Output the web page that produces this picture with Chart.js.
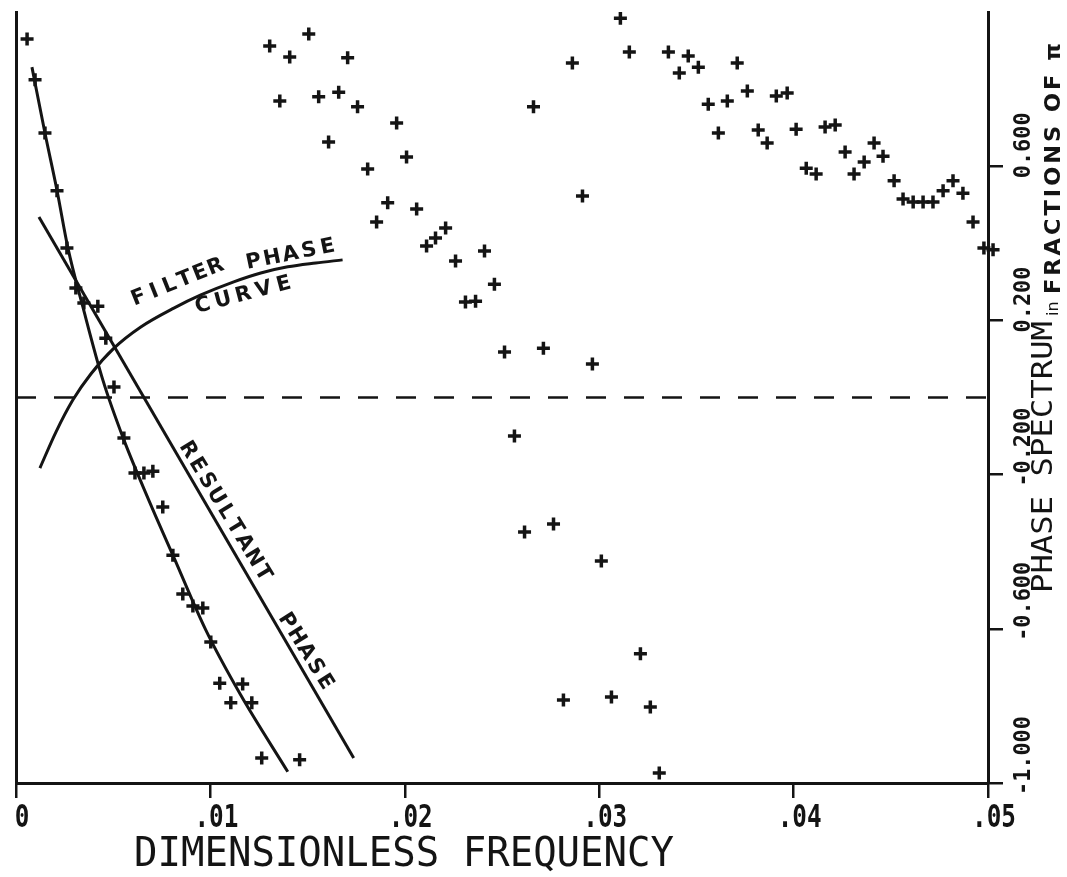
<!DOCTYPE html>
<html>
<head>
<meta charset="utf-8">
<script src="https://cdn.jsdelivr.net/npm/chart.js@4.4.1/dist/chart.umd.min.js"></script>
<style>
  html, body { margin: 0; padding: 0; background: #ffffff; }
  #wrap { width: 1067px; height: 877px; position: relative; }
  canvas { display: block; }
</style>
</head>
<body>
<div id="wrap"><canvas id="c" width="1067" height="877"></canvas></div>
<script>
// ---------------- data ----------------
const xTickValues = [0, 0.01, 0.02, 0.03, 0.04, 0.05];
const xTickLabels = ['0', '.01', '.02', '.03', '.04', '.05'];
const yTickValues = [-1.0, -0.6, -0.2, 0.2, 0.6];
const yTickLabels = ['-1.000', '-0.600', '-0.200', '0.200', '0.600'];
const xAxisTitle = 'DIMENSIONLESS FREQUENCY';
const yAxisTitleMain = 'PHASE SPECTRUM';
const yAxisTitleIn = 'in';
const yAxisTitleUnit = 'FRACTIONS OF π';
const filterLabelWords = ['FILTER', 'PHASE', 'CURVE'];
const resultantLabelWords = ['RESULTANT', 'PHASE'];

// observed phase points (+ markers)
const obsFreq = [
  0.00057, 0.00098, 0.00149, 0.00211, 0.00262, 0.00308, 0.00349, 0.00421, 0.00462, 0.00504,
  0.00555, 0.00612, 0.00658, 0.00704, 0.00755, 0.00807, 0.00858, 0.00910, 0.00961, 0.01002,
  0.01048, 0.01166, 0.01105, 0.01213, 0.01264, 0.01459, 0.01305, 0.01408, 0.01506, 0.01706,
  0.01357, 0.01557, 0.01660, 0.01757, 0.01608, 0.01958, 0.02009, 0.01809, 0.01912, 0.01855,
  0.02061, 0.02112, 0.02158, 0.02210, 0.02261, 0.02410, 0.02461, 0.02312, 0.02364, 0.02513,
  0.02713, 0.02965, 0.02564, 0.02616, 0.02765, 0.03011, 0.03212, 0.02816, 0.03063, 0.03263,
  0.03309, 0.02662, 0.02914, 0.02862, 0.03109, 0.03155, 0.03356, 0.03458, 0.03510, 0.03412,
  0.03710, 0.03561, 0.03659, 0.03613, 0.03762, 0.03911, 0.03967, 0.03818, 0.03864, 0.04013,
  0.04162, 0.04214, 0.04065, 0.04116, 0.04265, 0.04311, 0.04363, 0.04414, 0.04460, 0.04517,
  0.04563, 0.04615, 0.04666, 0.04717, 0.04769, 0.04820, 0.04871, 0.04923, 0.04979, 0.05026
];
const obsPhase = [
  0.930, 0.824, 0.686, 0.536, 0.388, 0.284, 0.245, 0.237, 0.154, 0.027,
  -0.105, -0.196, -0.196, -0.191, -0.284, -0.409, -0.510, -0.541, -0.546, -0.634,
  -0.741, -0.743, -0.792, -0.792, -0.935, -0.940, 0.912, 0.883, 0.943, 0.881,
  0.769, 0.780, 0.792, 0.754, 0.663, 0.712, 0.624, 0.593, 0.505, 0.455,
  0.489, 0.393, 0.414, 0.440, 0.354, 0.380, 0.294, 0.248, 0.250, 0.118,
  0.128, 0.087, -0.100, -0.349, -0.328, -0.424, -0.665, -0.785, -0.777, -0.803,
  -0.974, 0.754, 0.523, 0.868, 0.984, 0.896, 0.896, 0.886, 0.857, 0.842,
  0.868, 0.761, 0.769, 0.686, 0.795, 0.782, 0.790, 0.694, 0.660, 0.696,
  0.702, 0.707, 0.595, 0.580, 0.637, 0.580, 0.611, 0.660, 0.626, 0.562,
  0.515, 0.507, 0.507, 0.507, 0.536, 0.562, 0.530, 0.455, 0.388, 0.383
];

// smooth curve drawn through the low-frequency points
const fitFreq  = [0.00082, 0.00149, 0.00211, 0.00267, 0.00344, 0.00447, 0.00555, 0.00683, 0.00807, 0.00976, 0.01156, 0.01398];
const fitPhase = [0.857, 0.686, 0.537, 0.388, 0.235, 0.045, -0.110, -0.266, -0.409, -0.603, -0.772, -0.971];

// resultant phase (straight line)
const resultantFreq  = [0.00118, 0.01737];
const resultantPhase = [0.468, -0.935];

// filter phase curve
const filterFreq  = [0.00123, 0.00206, 0.00293, 0.00385, 0.00504, 0.00642, 0.00812, 0.00951, 0.01120, 0.01259, 0.01398, 0.01542, 0.01680];
const filterPhase = [-0.183, -0.089, -0.006, 0.061, 0.128, 0.183, 0.232, 0.266, 0.300, 0.323, 0.339, 0.349, 0.357];

// zero reference (dashed)
const zeroFreq  = [0, 0.05];
const zeroPhase = [0, 0];

// ---------------- helpers ----------------
const ink = '#141414';
const pts = (xs, ys) => xs.map((x, i) => ({ x: x, y: ys[i] }));

// word label anchors in data units: first-letter centre, last-letter centre
const wordAnchors = {
  filter:    [[0.00632, 0.258], [0.01028, 0.338]],
  phaseF:    [[0.01223, 0.351], [0.01603, 0.390]],
  curve:     [[0.00961, 0.238], [0.01378, 0.293]],
  resultant: [[0.00884, -0.136], [0.01269, -0.456]],
  phaseR:    [[0.01393, -0.580], [0.01588, -0.738]]
};

function drawWordAlong(ctx, chart, word, anchor, font) {
  const xs = chart.scales.x, ys = chart.scales.y;
  const p0 = [xs.getPixelForValue(anchor[0][0]), ys.getPixelForValue(anchor[0][1])];
  const p1 = [xs.getPixelForValue(anchor[1][0]), ys.getPixelForValue(anchor[1][1])];
  const ang = Math.atan2(p1[1] - p0[1], p1[0] - p0[0]);
  const n = word.length;
  ctx.save();
  ctx.font = font;
  ctx.textAlign = 'center';
  ctx.textBaseline = 'middle';
  for (let i = 0; i < n; i++) {
    const t = n === 1 ? 0 : i / (n - 1);
    const cx = p0[0] + t * (p1[0] - p0[0]);
    const cy = p0[1] + t * (p1[1] - p0[1]);
    ctx.save();
    ctx.translate(cx, cy);
    ctx.rotate(ang);
    ctx.fillText(word[i], 0, 0);
    ctx.restore();
  }
  ctx.restore();
}

// draw text scaled along its reading direction to a target length
function drawFitted(ctx, text, font, targetLen) {
  ctx.font = font;
  const w = ctx.measureText(text).width;
  ctx.save();
  ctx.scale(targetLen / w, 1);
  ctx.fillText(text, 0, 0);
  ctx.restore();
}

const textPlugin = {
  id: 'texts',
  afterDraw(chart) {
    const ctx = chart.ctx;
    const xs = chart.scales.x, ys = chart.scales.y;
    ctx.save();
    ctx.fillStyle = ink;
    ctx.textBaseline = 'alphabetic';

    // x tick labels
    xTickValues.forEach((v, i) => {
      const px = xs.getPixelForValue(v);
      ctx.save();
      ctx.font = 'bold 32px "DejaVu Sans Mono"';
      ctx.textAlign = 'center';
      ctx.translate(px + 6, 827);
      ctx.scale(0.76, 1);
      ctx.fillText(xTickLabels[i], 0, 0);
      ctx.restore();
    });

    // x axis title
    ctx.save();
    ctx.textAlign = 'left';
    ctx.translate(134, 866);
    drawFitted(ctx, xAxisTitle, '41px "DejaVu Sans Mono"', 540);
    ctx.restore();

    // right tick labels (rotated, reading upward)
    yTickValues.forEach((v, i) => {
      const py = ys.getPixelForValue(v);
      ctx.save();
      ctx.font = 'bold 23px "DejaVu Sans Mono"';
      ctx.textAlign = 'left';
      ctx.translate(1030, py + 12);
      ctx.rotate(-Math.PI / 2);
      ctx.scale(0.95, 1);
      ctx.fillText(yTickLabels[i], 0, 0);
      ctx.restore();
    });

    // right axis title
    ctx.save();
    ctx.textAlign = 'left';
    ctx.translate(1052, 593);
    ctx.rotate(-Math.PI / 2);
    drawFitted(ctx, yAxisTitleMain, '28px "DejaVu Sans Mono"', 272);
    ctx.restore();

    ctx.save();
    ctx.textAlign = 'left';
    ctx.translate(1058, 316);
    ctx.rotate(-Math.PI / 2);
    ctx.font = '16px "DejaVu Sans"';
    ctx.fillText(yAxisTitleIn, 0, 0);
    ctx.restore();

    ctx.save();
    ctx.textAlign = 'left';
    ctx.translate(1060, 294);
    ctx.rotate(-Math.PI / 2);
    ctx.font = 'bold 22px "DejaVu Sans"';
    let u = 0;
    const gap = 3;
    const chars = Array.from(yAxisTitleUnit);
    let total = 0;
    chars.forEach(ch => { total += ctx.measureText(ch).width + gap; });
    const k = 254 / total;
    chars.forEach(ch => {
      const w = ctx.measureText(ch).width;
      ctx.save();
      ctx.translate(u, 0);
      ctx.scale(k, 1);
      ctx.fillText(ch, 0, 0);
      ctx.restore();
      u += (w + gap) * k;
    });
    ctx.restore();

    // curve annotations
    const lf = 'bold 21px "DejaVu Sans"';
    drawWordAlong(ctx, chart, filterLabelWords[0], wordAnchors.filter, lf);
    drawWordAlong(ctx, chart, filterLabelWords[1], wordAnchors.phaseF, lf);
    drawWordAlong(ctx, chart, filterLabelWords[2], wordAnchors.curve, lf);
    drawWordAlong(ctx, chart, resultantLabelWords[0], wordAnchors.resultant, lf);
    drawWordAlong(ctx, chart, resultantLabelWords[1], wordAnchors.phaseR, lf);

    ctx.restore();
  }
};

const lineDs = (label, xs, ys, extra) => Object.assign({
  label: label,
  data: pts(xs, ys),
  showLine: true,
  borderColor: ink,
  backgroundColor: ink,
  borderWidth: 3,
  pointRadius: 0,
  pointHoverRadius: 0,
  cubicInterpolationMode: 'monotone',
  fill: false
}, extra || {});

new Chart(document.getElementById('c'), {
  type: 'scatter',
  data: {
    datasets: [
      {
        label: 'Observed phase',
        data: pts(obsFreq, obsPhase),
        showLine: false,
        pointStyle: 'cross',
        pointRadius: 6.5,
        pointHoverRadius: 6.5,
        pointBorderWidth: 3.5,
        borderColor: ink,
        backgroundColor: ink,
        clip: { left: 10, top: 0, right: 14, bottom: 10 }
      },
      lineDs('Fitted phase', fitFreq, fitPhase),
      lineDs('Resultant phase', resultantFreq, resultantPhase, { cubicInterpolationMode: 'default', tension: 0 }),
      lineDs('Filter phase curve', filterFreq, filterPhase),
      lineDs('Zero', zeroFreq, zeroPhase, { cubicInterpolationMode: 'default', tension: 0, borderWidth: 2.5, borderDash: [20, 18] })
    ]
  },
  options: {
    responsive: false,
    animation: false,
    devicePixelRatio: 1,
    events: [],
    layout: { padding: { left: 8, top: 12, right: 64, bottom: 79 } },
    plugins: { legend: { display: false }, tooltip: { enabled: false } },
    scales: {
      x: {
        type: 'linear', position: 'bottom', min: 0, max: 0.05,
        afterBuildTicks: s => { s.ticks = xTickValues.map(v => ({ value: v })); },
        ticks: { display: false },
        grid: { display: true, drawOnChartArea: false, drawTicks: true, tickLength: 15, lineWidth: 2.5, color: ink },
        border: { display: true, width: 3, color: ink }
      },
      y: {
        type: 'linear', position: 'right', min: -1, max: 1,
        afterBuildTicks: s => { s.ticks = yTickValues.map(v => ({ value: v })); },
        ticks: { display: false },
        grid: { display: true, drawOnChartArea: false, drawTicks: true, tickLength: 15, lineWidth: 2.5, color: ink },
        border: { display: true, width: 3, color: ink }
      },
      yLeft: {
        type: 'linear', position: 'left', min: -1, max: 1,
        ticks: { display: false },
        grid: { display: false },
        border: { display: true, width: 3, color: ink }
      }
    }
  },
  plugins: [textPlugin]
});
</script>
</body>
</html>
